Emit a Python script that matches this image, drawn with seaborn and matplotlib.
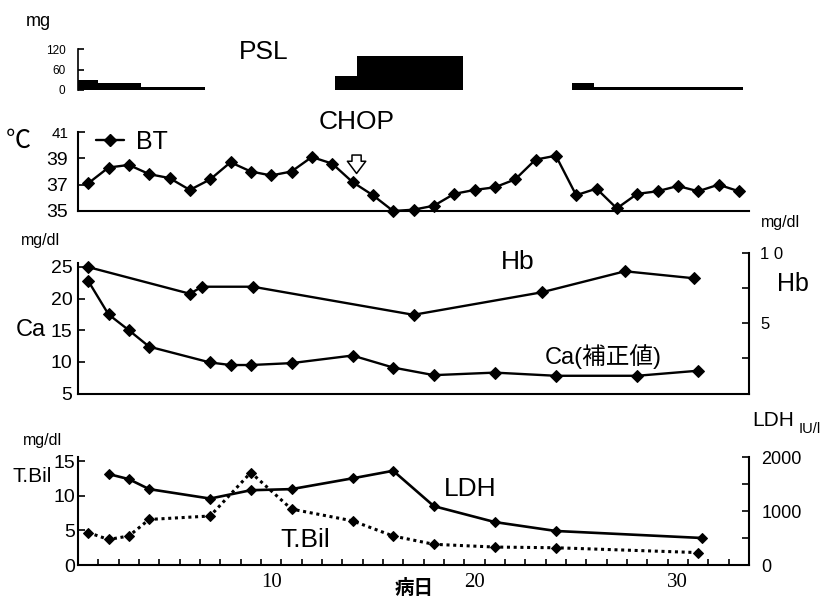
import numpy as np
import matplotlib
matplotlib.use("Agg")
import matplotlib.pyplot as plt
import seaborn as sns
from matplotlib.lines import Line2D

# PSL dose: step segments (start day, end day, mg)
psl_start = [0.5, 1.5, 3.6, 13.15, 14.2, 24.8, 25.9]
psl_end = [1.5, 3.6, 6.75, 14.2, 19.45, 25.9, 33.2]
psl_dose = [30, 20, 10, 40, 100, 20, 10]

# body temperature
bt_day = list(range(1, 34))
bt_temp = [37.1, 38.3, 38.5, 37.8, 37.5, 36.6, 37.4, 38.7, 38.0, 37.7, 38.0,
           39.1, 38.6, 37.2, 36.2, 35.0, 35.1, 35.4, 36.3, 36.6, 36.8, 37.4,
           38.9, 39.2, 36.2, 36.7, 35.2, 36.3, 36.5, 36.9, 36.5, 37.0, 36.5]

# Ca (corrected) and Hb
ca_day = [1, 2, 3, 4, 7, 8, 9, 11, 14, 16, 18, 21, 24, 28, 31]
ca_val = [22.8, 17.5, 15.0, 12.4, 9.9, 9.5, 9.5, 9.8, 11.0, 9.1, 7.9, 8.3, 7.8, 7.8, 8.6]
hb_day = [1, 6, 6.6, 9.1, 17, 23.3, 27.4, 30.8]
hb_val = [9.0, 7.1, 7.6, 7.6, 5.6, 7.2, 8.7, 8.2]

# T.Bil and LDH
tb_day = [1, 2, 3, 4, 7, 9, 11, 14, 16, 18, 21, 24, 31]
tb_val = [4.7, 3.7, 4.2, 6.6, 7.1, 13.4, 8.1, 6.4, 4.2, 3.0, 2.6, 2.5, 1.8]
ldh_day = [2, 3, 4, 7, 9, 11, 14, 16, 18, 21, 24, 31.2]
ldh_val = [1685, 1590, 1405, 1230, 1385, 1405, 1605, 1745, 1090, 795, 630, 500]

sns.set_style("ticks")
plt.rcParams['font.family'] = ['Liberation Sans', 'Noto Sans CJK JP']
plt.rcParams['axes.linewidth'] = 1.5
for k in ['text.color', 'axes.labelcolor', 'xtick.color', 'ytick.color', 'axes.edgecolor']:
    plt.rcParams[k] = 'black'

W_PX, H_PX = 825, 597
fig = plt.figure(figsize=(8.25, 5.97), dpi=100)


def box(top, bottom):
    return [78 / W_PX, 1 - bottom / H_PX, 671 / W_PX, (bottom - top) / H_PX]


def ftext(x, y, s, size, **kw):
    fig.text(x / W_PX, 1 - y / H_PX, s, fontsize=size, ha='center', va='center', **kw)


XLIM = (0.5, 33.5)
line_kw = dict(color='black', marker='D', markeredgecolor='black', clip_on=False)

# ---- PSL ----
ax_psl = fig.add_axes(box(49, 90))
ax_psl.bar(psl_start, psl_dose, width=np.array(psl_end) - np.array(psl_start),
           align='edge', color='black', linewidth=0)
ax_psl.set_xlim(XLIM)
ax_psl.set_ylim(0, 120)
ax_psl.set_yticks([0, 60, 120])
ax_psl.tick_params(axis='y', direction='in', length=4, width=1.2, labelsize=8.5, pad=9)
ax_psl.set_xticks([])
for s in ['top', 'right', 'bottom']:
    ax_psl.spines[s].set_visible(False)
ax_psl.spines['left'].set_linewidth(1.2)

# ---- BT ----
ax_bt = fig.add_axes(box(132, 211))
sns.lineplot(x=bt_day, y=bt_temp, ax=ax_bt, linewidth=1.7, markersize=6, **line_kw)
ax_bt.set_xlim(XLIM)
ax_bt.set_ylim(35, 41)
ax_bt.set_yticks([35, 37, 39, 41])
ax_bt.tick_params(axis='y', direction='in', length=5, width=1.2, labelsize=14, pad=7)
for lbl in ax_bt.get_yticklabels():
    if lbl.get_text() == '41':
        lbl.set_fontsize(11)
ax_bt.set_xticks([])
for s in ['top', 'right']:
    ax_bt.spines[s].set_visible(False)
h = Line2D([], [], color='black', marker='D', markersize=6, lw=1.7)
ax_bt.legend([h], ['BT'], loc='upper left', bbox_to_anchor=(96 / W_PX, 1 - 130 / H_PX),
             bbox_transform=fig.transFigure, frameon=False, fontsize=18,
             handlelength=1.1, handletextpad=0.5, borderpad=0, borderaxespad=0)
ax_bt.annotate('', xy=(14.2, 37.85), xytext=(14.2, 39.25), annotation_clip=False,
               arrowprops=dict(arrowstyle='simple,head_width=0.6,head_length=0.4,tail_width=0.3',
                               fc='white', ec='black', lw=1.1, mutation_scale=22,
                               shrinkA=0, shrinkB=0))

# ---- Ca / Hb ----
ax_ca = fig.add_axes(box(253, 393.5))
ax_hb = ax_ca.twinx()
sns.lineplot(x=ca_day, y=ca_val, ax=ax_ca, linewidth=1.7, markersize=6, **line_kw)
sns.lineplot(x=hb_day, y=hb_val, ax=ax_hb, linewidth=1.7, markersize=6, **line_kw)
ax_ca.set_xlim(XLIM)
ax_ca.set_ylim(5, 27.2)
ax_ca.set_yticks([5, 10, 15, 20, 25])
ax_ca.spines['left'].set_bounds(5, 25.6)
ax_ca.tick_params(axis='y', direction='in', length=5, width=1.2, labelsize=14, pad=4)
ax_ca.set_xticks([])
ax_hb.set_ylim(0, 10)
ax_hb.set_yticks([0, 2.5, 5, 7.5, 10])
ax_hb.set_yticklabels(['', '', '5', '', '1 0'])
ax_hb.tick_params(axis='y', direction='in', length=5, width=1.2, labelsize=12, pad=8)
for a in (ax_ca, ax_hb):
    a.spines['top'].set_visible(False)
ax_ca.spines['right'].set_visible(False)
ax_hb.spines['left'].set_visible(False)
ax_hb.spines['bottom'].set_visible(False)

# ---- T.Bil / LDH ----
ax_tb = fig.add_axes(box(457, 565))
ax_ldh = ax_tb.twinx()
sns.lineplot(x=tb_day, y=tb_val, ax=ax_tb, linewidth=2.2, linestyle=(0, (1, 1.2)),
             markersize=5, **line_kw)
sns.lineplot(x=ldh_day, y=ldh_val, ax=ax_ldh, linewidth=1.9, markersize=5, **line_kw)
ax_tb.set_xlim(XLIM)
ax_tb.set_ylim(0, 15.65)
ax_tb.set_yticks([0, 5, 10, 15])
ax_tb.tick_params(axis='y', direction='in', length=5, width=1.2, labelsize=14, pad=2)
ax_tb.set_xticks([10, 20, 30])
ax_tb.set_xticklabels(['10', '20', '30'], family='Liberation Serif')
ax_tb.set_xticks(np.arange(1.5, 33, 1), minor=True)
ax_tb.tick_params(axis='x', which='major', length=0, labelsize=15, pad=6)
ax_tb.tick_params(axis='x', which='minor', direction='in', length=4, width=1.2)
ax_ldh.set_ylim(0, 2000)
ax_ldh.set_yticks([0, 500, 1000, 1500, 2000])
ax_ldh.set_yticklabels(['0', '', '1000', '', '2000'])
ax_ldh.tick_params(axis='y', direction='in', length=5, width=1.2, labelsize=13, pad=9)
for a in (ax_tb, ax_ldh):
    a.spines['top'].set_visible(False)
ax_tb.spines['right'].set_visible(False)
ax_ldh.spines['left'].set_visible(False)
ax_ldh.spines['bottom'].set_visible(False)

for a in (ax_bt, ax_ca, ax_hb, ax_tb, ax_ldh, ax_psl):
    a.set_xlabel('')
    a.set_ylabel('')

# ---- labels ----
ftext(38, 22, 'mg', 13)
ftext(264, 52, 'PSL', 19)
ftext(357, 122, 'CHOP', 19)
ftext(18, 141, '℃', 18)
ftext(40, 240, 'mg/dl', 11.5)
ftext(31, 330, 'Ca', 17)
ftext(518, 262, 'Hb', 19)
ftext(603, 357, 'Ca(補正値)', 17)
ftext(780, 222, 'mg/dl', 11.5)
ftext(793, 284, 'Hb', 18)
ftext(42, 441, 'mg/dl', 11.5)
ftext(32, 477, 'T.Bil', 15)
ftext(305, 540, 'T.Bil', 19)
ftext(470, 489, 'LDH', 19)
ftext(773, 420, 'LDH', 15)
ftext(810, 429, 'IU/l', 10.5)
ftext(414, 588, '病日', 14, fontweight='bold')

fig.savefig('out.png', dpi=100)
